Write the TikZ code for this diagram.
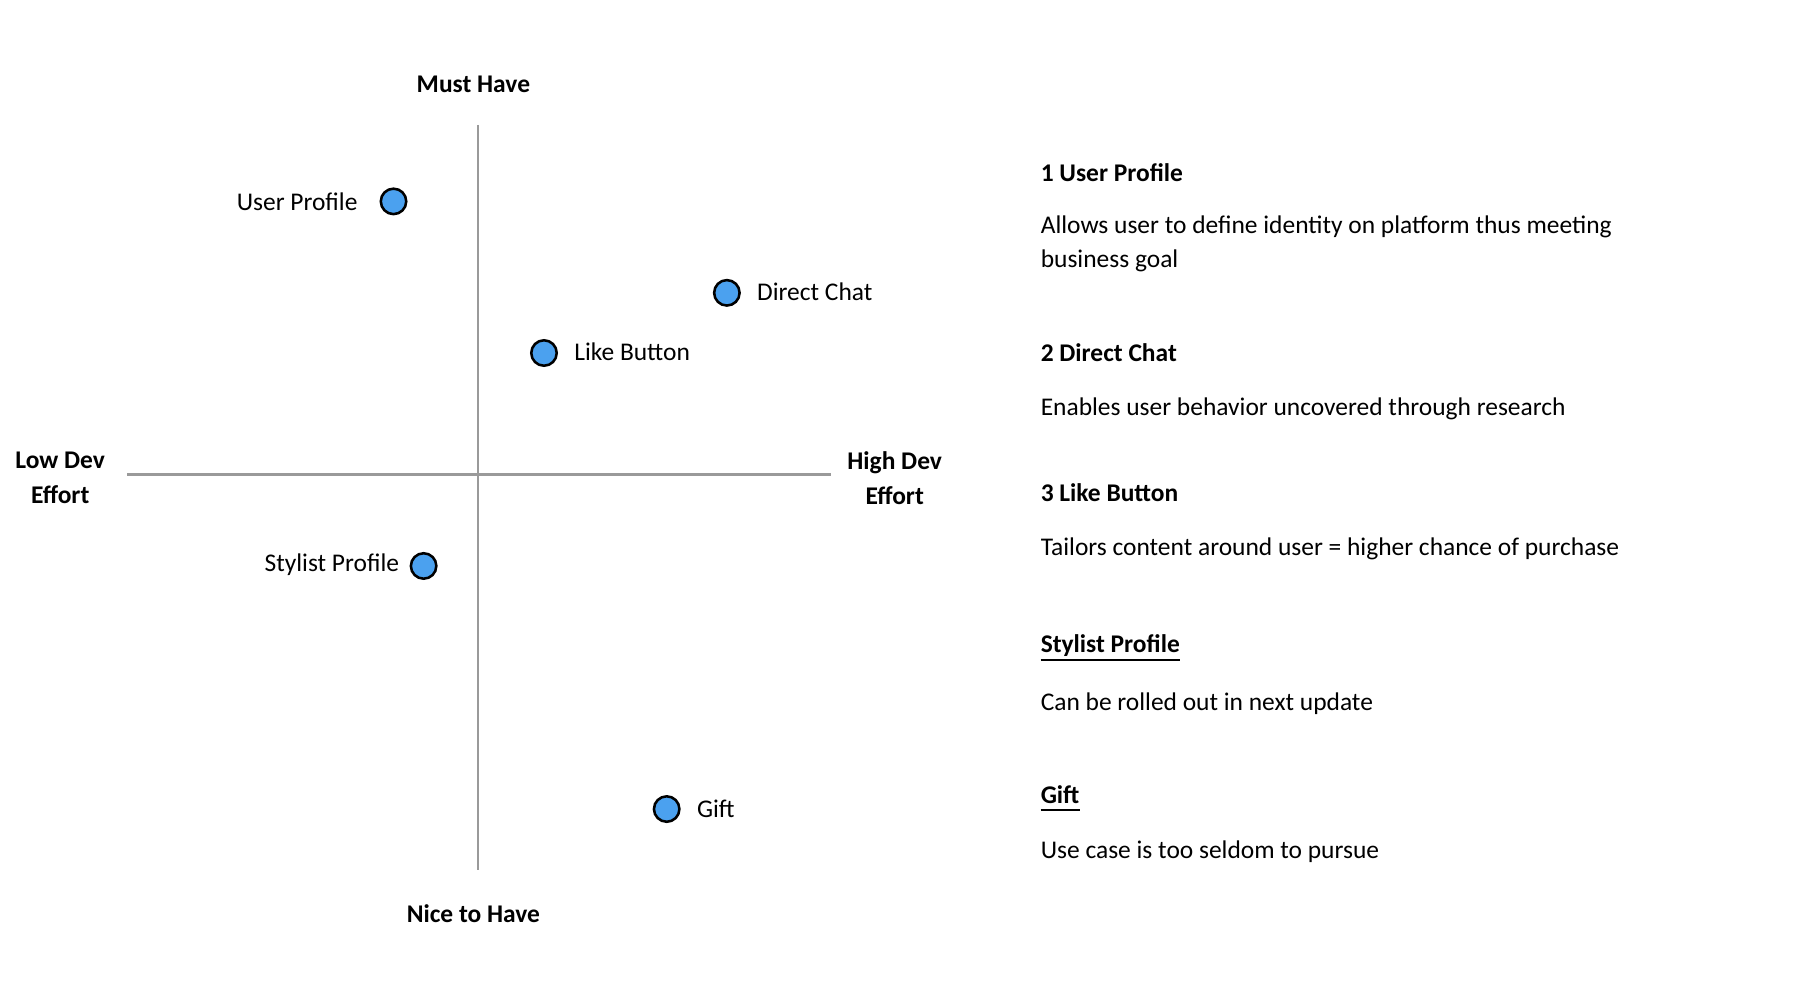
\documentclass[tikz,border=0pt]{standalone}
\usepackage{fontspec}
\setmainfont{Carlito}
\definecolor{dotblue}{HTML}{4BA1EF}
\definecolor{axisgray}{HTML}{9A9A9A}
\begin{document}
\begin{tikzpicture}[x=1pt,y=-1pt,
  lbl/.style={font=\fontsize{22}{26}\selectfont, inner sep=0pt},
  hd/.style={font=\fontsize{22}{30}\selectfont\bfseries, inner sep=0pt, align=center},
  dot/.style={circle, draw=black, line width=2.2pt, fill=dotblue, minimum size=22pt, inner sep=0pt},
  axis/.style={draw=axisgray, line width=2.2pt}]
\useasboundingbox (0,0) rectangle (1550,853);
\coordinate (vt) at (413,108); \coordinate (vb) at (413,752);
\coordinate (hl) at (110,410); \coordinate (hr) at (718,410);
\draw[axis] (vt) -- (vb);
\draw[axis] (hl) -- (hr);
\node[hd] (must) at (409,73) {Must Have};
\node[hd] (nice) at (409,789) {Nice to Have};
\node[hd] (low) at (52,413) {Low Dev\\Effort};
\node[hd] (high) at (773,413) {High Dev\\Effort};
\node[dot] (d1) at (340,174) {};
\node[lbl, anchor=east] (l1) at (309,174) {User Profile};
\node[dot] (d2) at (628,253) {};
\node[lbl, anchor=west] (l2) at (654,252) {Direct Chat};
\node[dot] (d3) at (470,305) {};
\node[lbl, anchor=west] (l3) at (496,304) {Like Button};
\node[dot] (d4) at (366,489) {};
\node[lbl, anchor=east] (l4) at (345,488) {Stylist Profile};
\node[dot] (d5) at (576,699) {};
\node[lbl, anchor=west] (l5) at (602,699) {Gift};
\begin{scope}[every node/.style={anchor=base west, inner sep=0pt}]
\node[font=\fontsize{22}{26}\selectfont\bfseries] (r1) at (899,157) {1 User Profile};
\node[font=\fontsize{22}{26}\selectfont] (r1d) at (899,202) {Allows user to define identity on platform thus meeting};
\node[font=\fontsize{22}{26}\selectfont] (r1e) at (899,231) {business goal};
\node[font=\fontsize{22}{26}\selectfont\bfseries] (r2) at (899,312) {2 Direct Chat};
\node[font=\fontsize{22}{26}\selectfont] (r2d) at (899,359) {Enables user behavior uncovered through research};
\node[font=\fontsize{22}{26}\selectfont\bfseries] (r3) at (899,433) {3 Like Button};
\node[font=\fontsize{22}{26}\selectfont] (r3d) at (899,480) {Tailors content around user = higher chance of purchase};
\node[font=\fontsize{22}{26}\selectfont\bfseries] (r4) at (899,564) {Stylist Profile};
\node[font=\fontsize{22}{26}\selectfont] (r4d) at (899,614) {Can be rolled out in next update};
\node[font=\fontsize{22}{26}\selectfont\bfseries] (r5) at (899,694) {Gift};
\node[font=\fontsize{22}{26}\selectfont] (r5d) at (899,742) {Use case is too seldom to pursue};
\end{scope}
\draw[line width=1.6pt] ([yshift=-6pt]r4.base west) -- ([yshift=-6pt]r4.base east);
\draw[line width=1.6pt] ([yshift=-6pt]r5.base west) -- ([yshift=-6pt]r5.base east);
\end{tikzpicture}
\end{document}
